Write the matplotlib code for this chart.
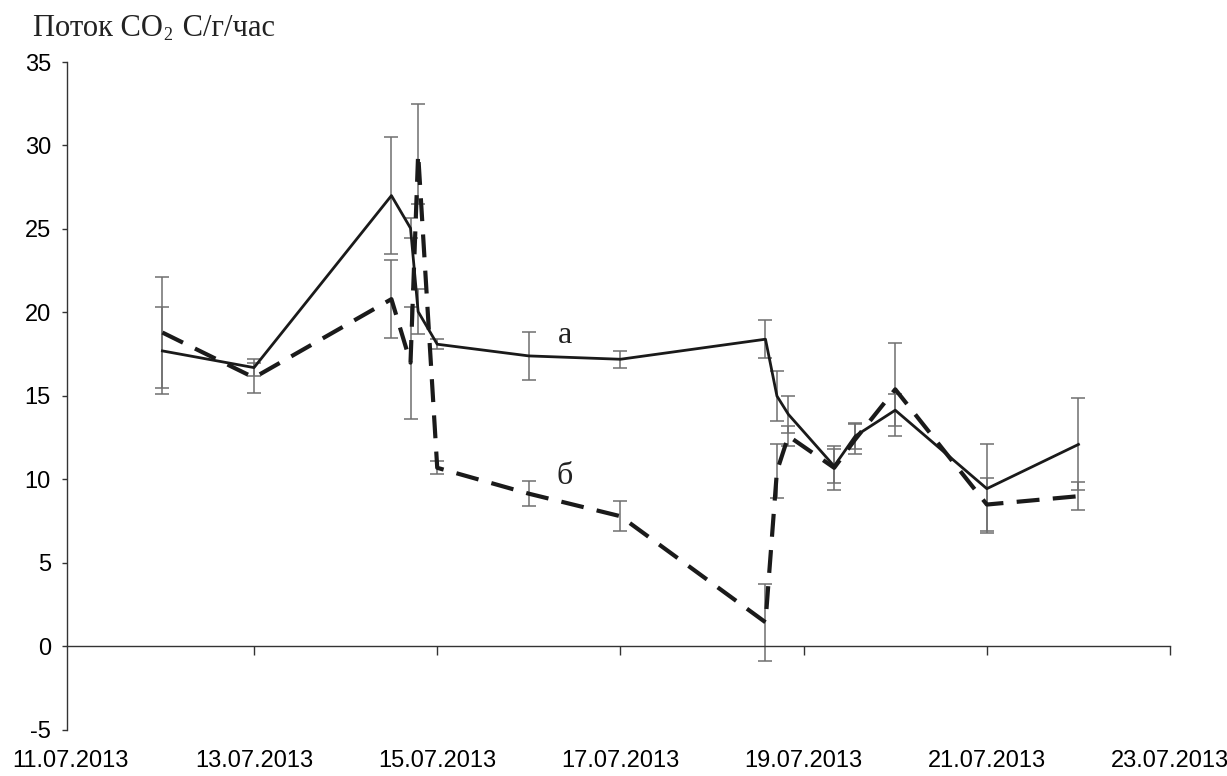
"""
Поток CO2: две серии (а — сплошная, б — пунктир) с погрешностями.
"""

import matplotlib
matplotlib.use('Agg')
import matplotlib.pyplot as plt
import matplotlib.dates as mdates
import pandas as pd

plt.rcParams['font.family'] = ['Liberation Sans', 'DejaVu Sans']
plt.rcParams['axes.unicode_minus'] = False

# ---- данные ----
times = pd.to_datetime([
    '2013-07-12 00:00', '2013-07-13 00:00', '2013-07-14 12:00', '2013-07-14 17:00',
    '2013-07-14 19:00', '2013-07-15 00:00', '2013-07-16 00:00', '2013-07-17 00:00',
    '2013-07-18 14:00', '2013-07-18 17:00', '2013-07-18 20:00', '2013-07-19 08:00',
    '2013-07-19 13:30', '2013-07-20 00:00', '2013-07-21 00:00', '2013-07-22 00:00',
])

flux_a = [17.7, 16.7, 27.0, 25.05, 20.05, 18.1, 17.4, 17.2,
          18.4, 15.0, 13.9, 10.8, 12.6, 14.15, 9.45, 12.1]
err_a = [2.6, 0.5, 3.5, 0.6, 1.35, 0.3, 1.45, 0.5,
         1.15, 1.5, 1.1, 1.0, 0.8, 0.95, 2.65, 2.75]

flux_b = [18.8, 16.1, 20.8, 17.0, 29.5, 10.7, 9.15, 7.8,
          1.45, 10.5, 12.6, 10.7, 12.4, 15.4, 8.5, 9.0]
err_b = [3.3, 0.9, 2.35, 3.35, 3.0, 0.4, 0.75, 0.9,
         2.3, 1.6, 0.6, 1.3, 0.9, 2.8, 1.6, 0.85]

x_ticks = pd.date_range('2013-07-11', '2013-07-23', freq='2D')
y_ticks = list(range(-5, 36, 5))

fig = plt.figure(figsize=(12.27, 7.76), dpi=100)
ax = fig.add_axes([0.0546, 0.0593, 0.899, 0.8608])

err_style = dict(fmt='none', ecolor='#6f6f6f', elinewidth=1.1,
                 capsize=5, capthick=1.1, zorder=2)
ax.errorbar(times, flux_a, yerr=err_a, **err_style)
ax.errorbar(times, flux_b, yerr=err_b, **err_style)

ax.plot(times, flux_a, color='#1a1a1a', lw=2.0, zorder=3)
ax.plot(times, flux_b, color='#1a1a1a', lw=3.0, dashes=(5.5, 3.2), zorder=3)

# подписи серий
ax.text(pd.Timestamp('2013-07-16 09:30'), 18.65, 'а', family='Liberation Serif',
        fontsize=23, ha='center', va='center', color='#222222')
ax.text(pd.Timestamp('2013-07-16 09:30'), 10.15, 'б', family='Liberation Serif',
        fontsize=23, ha='center', va='center', color='#222222')

ax.set_xlim(pd.Timestamp('2013-07-10 23:00'), pd.Timestamp('2013-07-23 00:00'))
ax.set_ylim(-5, 35)

ax.set_xticks(x_ticks)
ax.xaxis.set_major_formatter(mdates.DateFormatter('%d.%m.%Y'))
ax.set_yticks(y_ticks)

for side in ('top', 'right'):
    ax.spines[side].set_visible(False)
ax.spines['bottom'].set_position(('data', 0))
for side in ('left', 'bottom'):
    ax.spines[side].set_color('#333333')
    ax.spines[side].set_linewidth(1.0)

ax.tick_params(axis='x', direction='out', length=6.5, width=1.0,
               color='#333333', pad=68, labelsize=17)
ax.tick_params(axis='y', direction='out', length=3.6, width=1.0,
               color='#333333', pad=8, labelsize=17)
# первая метка совпадает с осью Y
ax.xaxis.get_major_ticks()[0].tick1line.set_visible(False)

# заголовок оси Y с подстрочной двойкой, собранный из трёх кусков
serif = dict(family='Liberation Serif', color='#222222', annotation_clip=False)
t1 = ax.annotate('Поток CO', xy=(33 / 1227, 1 - 36 / 776), xycoords='figure fraction',
                 fontsize=22, ha='left', va='baseline', **serif)
t2 = ax.annotate('2', xy=(1, 0), xycoords=t1, xytext=(0.5, -1), textcoords='offset points',
                 fontsize=13, ha='left', va='bottom', **serif)
ax.annotate(' С/г/час', xy=(1, 0), xycoords=t1, xytext=(8.5, 0), textcoords='offset points',
            fontsize=22, ha='left', va='bottom', **serif)

fig.savefig('out.png', dpi=100)
